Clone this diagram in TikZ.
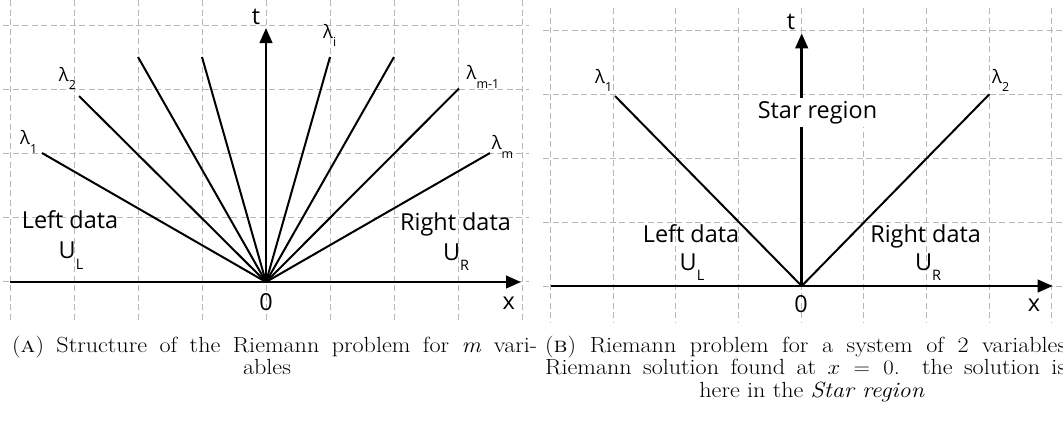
\documentclass[tikz,border=0pt]{standalone}
\usepackage{fontspec}
\newfontfamily\os{Open Sans}
\usetikzlibrary{arrows.meta}
\newcommand\lsub[1]{\raisebox{-8.5bp}{\fontsize{12.5}{14}\selectfont #1}}
\newcommand\usub[1]{\raisebox{-10.5bp}{\fontsize{14.5}{16}\selectfont #1}}
\newcommand\capline[2]{\scalebox{1.1}[1]{\makebox[#1][s]{#2}}}
\begin{document}
\begin{tikzpicture}[x=1bp,y=-1bp,
  gridline/.style={draw=black!28, line width=0.9bp, dash pattern=on 6bp off 3.5bp},
  axis/.style={line width=2.6bp, -{Triangle[length=15bp,width=12.5bp]}},
  ray/.style={line width=2bp},
  lbl/.style={inner sep=0pt, anchor=base, font=\os\fontsize{23.5}{28}\selectfont},
  lam/.style={inner sep=0pt, anchor=base west, font=\os\fontsize{18.5}{22}\selectfont},
  captext/.style={inner sep=0pt, anchor=base west, font=\fontsize{22}{26}\selectfont}
]
\useasboundingbox (0,0) rectangle (1063,428);
% ---------- grids ----------
\foreach \x in {10,74,...,522} \draw[gridline] (\x,0) -- (\x,322);
\foreach \y in {25.5,89.5,153.5,217.5,281.5} \draw[gridline] (3,\y) -- (529,\y);
\foreach \i in {0,...,8} \draw[gridline] ({550.7+62.62*\i},8) -- ++(0,314);
\foreach \y in {30.7,94.5,158.6,222.7,286} \draw[gridline] (543,\y) -- (1063,\y);

% ---------- panel A ----------
\coordinate (O1) at (266,282);
\coordinate (T1) at (266,28);
\coordinate (XA) at (10,282);
\coordinate (XB) at (521,282);
\coordinate (r1) at (42,153);
\coordinate (r2) at (79,96);
\coordinate (r3) at (138,57);
\coordinate (r4) at (202,57);
\coordinate (r5) at (330,57);
\coordinate (r6) at (394,57);
\coordinate (r7) at (459,88.5);
\coordinate (r8) at (490,153);
\draw[axis] (XA) -- (XB);
\draw[axis] (O1) -- (T1);
\foreach \r in {r1,r2,r3,r4,r5,r6,r7,r8} \draw[ray] (O1) -- (\r);

\node[lbl] (tA) at (256,24.5) {t};
\node[lbl] (zA) at (266,310) {0};
\node[lbl] (xA) at (508.7,309) {x};
\node[lam] (l1A) at (20,144.7) {λ\lsub{1}};
\node[lam] (l2A) at (58.8,81.2) {λ\lsub{2}};
\node[lam] (liA) at (323,38) {λ\lsub{i}};
\node[lam] (lm1A) at (466.5,79.6) {λ\lsub{m-1}};
\node[lam] (lmA) at (491.7,149.7) {λ\lsub{m}};
\node[lbl] (ldA) at (70,228.5) {Left data};
\node[lbl] (ulA) at (71,258.5) {U\usub{L}};
\node[lbl] (rdA) at (455.5,230.5) {Right data};
\node[lbl] (urA) at (456,260) {U\usub{R}};

% ---------- panel B ----------
\coordinate (O2) at (801.7,286);
\coordinate (T2) at (801.7,33.3);
\coordinate (XC) at (550.7,286);
\coordinate (XD) at (1052.7,286);
\coordinate (s1) at (615,96);
\coordinate (s2) at (989.3,94.3);
\draw[axis] (XC) -- (XD);
\draw[axis] (O2) -- (T2);
\draw[ray] (O2) -- (s1);
\draw[ray] (O2) -- (s2);

\node[lbl] (tB) at (791,29.3) {t};
\node[lbl] (zB) at (801,312.7) {0};
\node[lbl] (xB) at (1034,311.7) {x};
\node[lam] (l1B) at (595,83.3) {λ\lsub{1}};
\node[lam] (l2B) at (992,83.3) {λ\lsub{2}};
\node[lbl, fill=white, inner xsep=1bp, inner ysep=3bp] (star) at (817.5,118) {Star region};
\node[lbl] (ldB) at (691,242.7) {Left data};
\node[lbl] (ulB) at (692,270) {U\usub{L}};
\node[lbl] (rdB) at (925.6,242.7) {Right data};
\node[lbl] (urB) at (928,270) {U\usub{R}};

% ---------- captions ----------
\node[captext] (ca1) at (12,352) {\capline{477.3bp}{(\textsc{a}) Structure of the Riemann problem for \textit{m} vari-}};
\node[captext, anchor=base] (ca2) at (267,374.5) {\scalebox{1.1}[1]{ables}};
\node[captext] (cb1) at (545,352) {\capline{473.6bp}{(\textsc{b}) Riemann problem for a system of 2 variables}};
\node[captext] (cb2) at (545,374.5) {\capline{473.6bp}{Riemann solution found at $x = 0$. the solution is}};
\node[captext, anchor=base] (cb3) at (812,397) {\scalebox{1.1}[1]{here in the \textit{Star region}}};
\end{tikzpicture}
\end{document}
